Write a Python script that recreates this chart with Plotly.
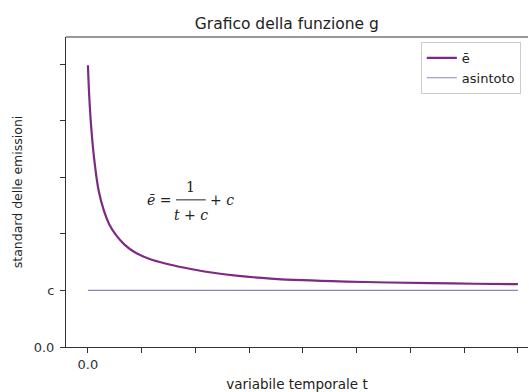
import plotly.graph_objects as go

# ---- data ----
c_value = 0.5
t_values = [0, 0.06, 0.15, 0.28, 0.5, 0.75, 1.0, 1.3, 1.7, 2.2, 2.9, 3.6,
            4.5, 5.5, 7.0, 8.5, 10, 12, 14, 16, 18, 20]
e_values = [2.49, 2.22, 1.95, 1.68, 1.38, 1.20, 1.08, 0.99, 0.905, 0.835, 0.775,
            0.738, 0.70, 0.665, 0.628, 0.605, 0.59, 0.578, 0.57, 0.564, 0.559,
            0.555]
asym_t = [0, 20]
asym_e = [c_value, c_value]

x_tick_vals = [0, 2.5, 5, 7.5, 10, 12.5, 15, 17.5, 20]
x_tick_text = ["0.0", "", "", "", "", "", "", "", ""]
y_tick_vals = [0, 0.5, 1.0, 1.5, 2.0, 2.5]
y_tick_text = ["0.0", "c", "", "", "", ""]

FONT = "DejaVu Sans"
AXC = "#333333"

fig = go.Figure()
fig.add_trace(go.Scatter(
    x=t_values, y=e_values, mode="lines", name="ē",
    line=dict(color="#7d2a85", width=2.2, shape="spline", smoothing=1.0),
))
fig.add_trace(go.Scatter(
    x=asym_t, y=asym_e, mode="lines", name="asintoto",
    line=dict(color="#8585cc", width=1.1),
))

# formula as text pieces
serif = dict(family="DejaVu Serif", size=14, color="#222222")
fig.add_annotation(x=3.95, y=1.295, xref="x", yref="y", text="<i>ē</i> =",
                   showarrow=False, font=serif, xanchor="right")
fig.add_annotation(x=4.79, y=1.41, xref="x", yref="y", text="1",
                   showarrow=False, font=serif)
fig.add_annotation(x=4.79, y=1.165, xref="x", yref="y", text="<i>t</i> + <i>c</i>",
                   showarrow=False, font=serif)
fig.add_annotation(x=5.6, y=1.295, xref="x", yref="y", text="+ <i>c</i>",
                   showarrow=False, font=serif, xanchor="left")
fig.add_shape(type="line", xref="x", yref="y", x0=4.1, x1=5.48, y0=1.30, y1=1.30,
              line=dict(color="#222222", width=1))

# top spine (no right spine visible in reference)
fig.add_shape(type="line", xref="paper", yref="paper", x0=0, x1=1, y0=1, y1=1,
              line=dict(color=AXC, width=1))

fig.update_layout(
    width=529, height=392,
    margin=dict(l=66, r=1, t=37, b=45, autoexpand=False),
    paper_bgcolor="white", plot_bgcolor="white",
    font=dict(family=FONT, size=13, color=AXC),
    title=dict(text="Grafico della funzione g", x=0.478, xref="paper",
               xanchor="center",
               y=1, yref="paper", yanchor="bottom", pad=dict(b=8),
               font=dict(family=FONT, size=15.5, color="#222222")),
    showlegend=True,
    legend=dict(x=0.768, y=0.984, xanchor="left", yanchor="top",
                bgcolor="white", bordercolor="#cccccc", borderwidth=1,
                font=dict(family=FONT, size=13, color="#222222"),
                tracegroupgap=1),
    xaxis=dict(range=[-1.02, 20.47], showgrid=False, zeroline=False,
               automargin=False,
               showline=True, linecolor=AXC, linewidth=1,
               ticks="outside", ticklen=5, tickcolor=AXC,
               tickvals=x_tick_vals, ticktext=x_tick_text,
               tickfont=dict(size=13),
               title=dict(text="variabile temporale t", standoff=9,
                          font=dict(family=FONT, size=13.5, color="#222222"))),
    yaxis=dict(range=[0, 2.739], showgrid=False, zeroline=False,
               automargin=False,
               showline=True, linecolor=AXC, linewidth=1,
               ticks="outside", ticklen=5, tickcolor=AXC,
               ticklabelstandoff=3,
               tickvals=y_tick_vals, ticktext=y_tick_text,
               tickfont=dict(size=13),
               title=dict(text="standard delle emissioni", standoff=8,
                          font=dict(family=FONT, size=12.5, color="#222222"))),
)

fig.write_html("out.html",
               config={"displayModeBar": False},
               post_script="document.body.style.margin='0';document.body.style.overflow='hidden';")
